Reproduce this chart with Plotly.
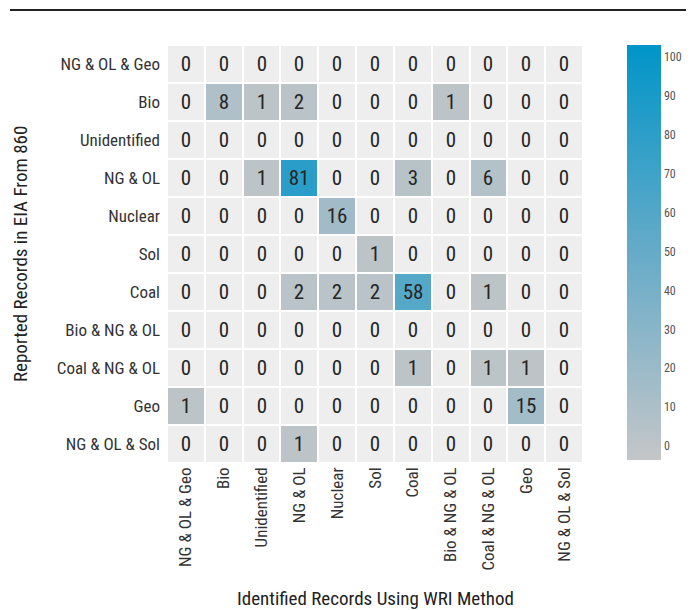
import plotly.graph_objects as go
import numpy as np

categories = ["NG & OL & Geo", "Bio", "Unidentified", "NG & OL", "Nuclear", "Sol",
              "Coal", "Bio & NG & OL", "Coal & NG & OL", "Geo", "NG & OL & Sol"]

counts = [
    [0, 0, 0, 0, 0, 0, 0, 0, 0, 0, 0],
    [0, 8, 1, 2, 0, 0, 0, 1, 0, 0, 0],
    [0, 0, 0, 0, 0, 0, 0, 0, 0, 0, 0],
    [0, 0, 1, 81, 0, 0, 3, 0, 6, 0, 0],
    [0, 0, 0, 0, 16, 0, 0, 0, 0, 0, 0],
    [0, 0, 0, 0, 0, 1, 0, 0, 0, 0, 0],
    [0, 0, 0, 2, 2, 2, 58, 0, 1, 0, 0],
    [0, 0, 0, 0, 0, 0, 0, 0, 0, 0, 0],
    [0, 0, 0, 0, 0, 0, 1, 0, 1, 1, 0],
    [1, 0, 0, 0, 0, 0, 0, 0, 0, 15, 0],
    [0, 0, 0, 1, 0, 0, 0, 0, 0, 0, 0],
]

colorbar_ticks = [0, 10, 20, 30, 40, 50, 60, 70, 80, 90, 100]

z = np.array(counts, dtype=float)
z_nonzero = np.where(z > 0, z, np.nan)
z_zero = np.where(z == 0, 0.0, np.nan)
text = [[str(v) for v in row] for row in counts]

FONT = "Roboto Condensed, Liberation Sans Narrow, Roboto, sans-serif"

fig = go.Figure()
fig.add_trace(go.Heatmap(
    z=z_zero, x=categories, y=categories,
    colorscale=[[0, "#eeeeee"], [1, "#eeeeee"]], showscale=False,
    xgap=2, ygap=2, hoverinfo="skip",
))
fig.add_trace(go.Heatmap(
    z=z_nonzero, x=categories, y=categories,
    colorscale=[[0, "#c4c6c8"], [0.5, "#66abc8"], [1, "#0095c8"]],
    zmin=-3.6, zmax=103.1,
    xgap=2, ygap=2,
    colorbar=dict(
        x=1.106, xanchor="left", xref="paper",
        y=1, yanchor="top",
        thickness=34, thicknessmode="pixels",
        len=415, lenmode="pixels",
        xpad=0, ypad=0,
        outlinewidth=0,
        tickvals=colorbar_ticks,
        ticks="", ticklen=0,
        tickfont=dict(family=FONT, size=12, color="#555555"),
    ),
))
fig.add_trace(go.Heatmap(
    z=z, x=categories, y=categories, text=text,
    texttemplate="%{text}", textfont=dict(family=FONT, size=21, color="#262626"),
    colorscale=[[0, "rgba(0,0,0,0)"], [1, "rgba(0,0,0,0)"]], showscale=False,
    hoverinfo="skip",
))

fig.update_layout(
    width=686, height=602,
    margin=dict(l=159, r=111, t=37, b=147, autoexpand=False),
    paper_bgcolor="white", plot_bgcolor="white",
    font=dict(family=FONT, color="#333333"),
    xaxis=dict(tickangle=-90, showgrid=False, zeroline=False, ticks="",
               automargin=False,
               tickfont=dict(family=FONT, size=17, color="#333333")),
    yaxis=dict(autorange="reversed", showgrid=False, zeroline=False, ticks="",
               automargin=False, ticklabelstandoff=6,
               tickfont=dict(family=FONT, size=17, color="#333333")),
    shapes=[dict(type="line", xref="paper", yref="paper",
                 x0=-157 / 416, x1=527 / 416, y0=1 + 35 / 418, y1=1 + 35 / 418,
                 line=dict(color="#222222", width=2))],
    annotations=[
        dict(text="Reported Records in EIA From 860", xref="paper", yref="paper",
             x=-147 / 416, y=0.5, xanchor="center", yanchor="middle",
             textangle=-90, showarrow=False,
             font=dict(family=FONT, size=19, color="#222222")),
        dict(text="Identified Records Using WRI Method", xref="paper", yref="paper",
             x=0.5, y=-135 / 418, xanchor="center", yanchor="middle",
             showarrow=False,
             font=dict(family=FONT, size=19, color="#222222")),
    ],
)

fig.write_html("out.html")
